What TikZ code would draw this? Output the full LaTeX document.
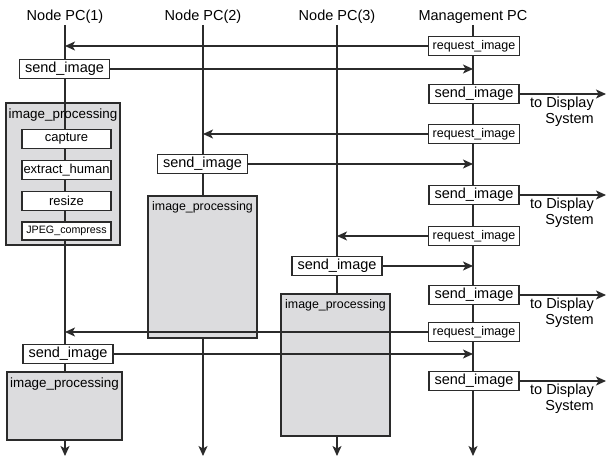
\documentclass[tikz,border=0pt]{standalone}
\usepackage{fontspec}
\setmainfont{Liberation Sans}
\usetikzlibrary{arrows.meta,positioning}
\definecolor{ink}{HTML}{2B2B2B}
\definecolor{procfill}{HTML}{DCDCDE}
\tikzset{
    lifeline/.style={
        -{Stealth[length=10pt,width=9pt,inset=2.5pt]},
        line width=1.1pt,
        color=ink
    },
    message/.style={
        -{Stealth[length=10pt,width=9pt,inset=2.5pt]},
        line width=1.1pt,
        color=ink
    },
    sendbox/.style={
        draw=ink,
        fill=white,
        line width=1.1pt,
        minimum width=90pt,
        minimum height=19pt,
        inner sep=0pt,
        font=\fontsize{14.5}{16}\selectfont
    },
    requestbox/.style={
        draw=ink,
        fill=white,
        line width=1.1pt,
        minimum width=91pt,
        minimum height=19pt,
        inner sep=0pt,
        font=\fontsize{12.5}{14}\selectfont
    },
    procbox/.style={
        draw=ink,
        fill=procfill,
        line width=1.1pt,
        inner sep=0pt
    },
    proclabel/.style={
        anchor=north,
        inner sep=0pt,
        yshift=-6pt
    },
    stepbox/.style={
        draw=ink,
        fill=white,
        line width=1.1pt,
        minimum width=89pt,
        minimum height=19pt,
        inner sep=0pt,
        font=\fontsize{13}{15}\selectfont
    },
    headerlabel/.style={
        anchor=base,
        inner sep=0pt,
        font=\fontsize{14.5}{16}\selectfont
    },
    displaylabel/.style={
        anchor=north east,
        align=right,
        inner sep=0pt,
        font=\fontsize{14.5}{16}\selectfont
    }
}

\begin{document}
\begin{tikzpicture}[x=1pt,y=-1pt]

    \useasboundingbox (0,0) rectangle (608,457);

    % Headers
    \node[headerlabel] (h1) at (65,21) {Node PC(1)};
    \node[headerlabel] (h2) at (203,21) {Node PC(2)};
    \node[headerlabel] (h3) at (337,21) {Node PC(3)};
    \node[headerlabel] (h4) at (473,21) {Management PC};

    \coordinate (top) at (0,25);
    \coordinate (bot) at (0,456);
    \coordinate (edge) at (606,0);

    % Lifelines
    \foreach \h in {h1,h2,h3,h4}
        \draw[lifeline] (\h |- top) -- (\h |- bot);

    % Processing blocks
    \node[procbox, minimum width=114pt, minimum height=142pt]
        (p1) at (63,174) {};
    \node[procbox, minimum width=109pt, minimum height=142pt]
        (p2) at (202.5,267) {};
    \node[procbox, minimum width=109pt, minimum height=142pt]
        (p3) at (335.5,365) {};
    \node[procbox, minimum width=115pt, minimum height=68pt]
        (p4) at (64.5,406) {};

    % Lifeline through first block
    \draw[ink, line width=1.1pt]
        (p1.north -| h1) -- (p1.south -| h1);

    \node[proclabel, font=\fontsize{13.4}{15}\selectfont]
        at (p1.north) {image\_processing};
    \node[proclabel, font=\fontsize{12.4}{14}\selectfont]
        at (p2.north) {image\_processing};
    \node[proclabel, font=\fontsize{12.4}{14}\selectfont]
        at (p3.north) {image\_processing};
    \node[proclabel, font=\fontsize{13.4}{15}\selectfont]
        at (p4.north) {image\_processing};

    % Steps
    \node[stepbox] (capture) at (66.5,139) {capture};
    \node[stepbox] (extract) at (66.5,170) {extract\_human};
    \node[stepbox] (resize) at (66.5,201) {resize};
    \node[stepbox, minimum height=18pt, font=\fontsize{10.7}{12}\selectfont]
        (jpeg) at (66.5,231) {JPEG\_compress};

    % Requests
    \node[requestbox] (req1) at (474,46) {request\_image};
    \node[requestbox] (req2) at (474,134) {request\_image};
    \node[requestbox] (req3) at (474,236) {request\_image};
    \node[requestbox] (req4) at (474,332) {request\_image};

    \draw[message] (req1.west) -- (req1.west -| h1);
    \draw[message] (req2.west) -- (req2.west -| h2);
    \draw[message] (req3.west) -- (req3.west -| h3);
    \draw[message] (req4.west) -- (req4.west -| h1);

    % Node replies
    \node[sendbox] (ns1) at (64.5,69) {send\_image};
    \node[sendbox] (ns2) at (202.5,164) {send\_image};
    \node[sendbox] (ns3) at (337,266) {send\_image};
    \node[sendbox] (ns4) at (68,354) {send\_image};

    \foreach \n in {ns1,ns2,ns3,ns4}
        \draw[message] (\n.east) -- (\n.east -| h4);

    % Forward to display
    \foreach \i/\y in {1/94,2/195,3/295,4/381} {
        \node[sendbox] (ms\i) at (474,\y) {send\_image};
        \draw[message] (ms\i.east) -- (ms\i.east -| edge);
        \node[displaylabel] (disp\i) at (594,\y+3) {to Display\\System};
    }

\end{tikzpicture}
\end{document}
